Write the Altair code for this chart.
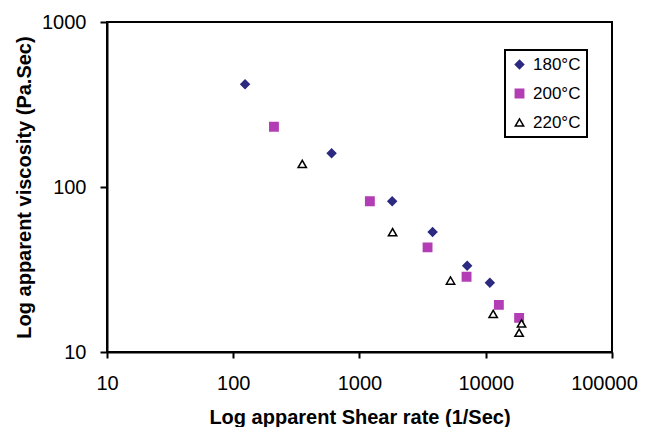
import altair as alt
import pandas as pd

# Data (log-log scatter)
temps = ["180°C", "200°C", "220°C"]
shear_180 = [124, 601, 1815, 3793, 7125, 10777]
visc_180 = [419, 160, 82, 53.4, 33.3, 26.3]
shear_200 = [210, 1208, 3460, 7046, 12700, 18380]
visc_200 = [232, 82, 43.1, 28.6, 19.3, 16.1]
shear_220 = [352, 1828, 5260, 11450, 19200, 18380]
visc_220 = [138, 53.2, 27.1, 17.0, 14.9, 13.1]

x_ticks = [10, 100, 1000, 10000, 100000]
y_ticks = [10, 100, 1000]

rows = []
for t, xs, ys in zip(temps, [shear_180, shear_200, shear_220], [visc_180, visc_200, visc_220]):
    for xv, yv in zip(xs, ys):
        rows.append({"temp": t, "shear": xv, "visc": yv})
df = pd.DataFrame(rows)

FONT = "Liberation Sans"
navy = "#2C2A80"
magenta = "#B23DB4"

leg = alt.Legend(
    title=None, orient="none", legendX=398, legendY=28, padding=6,
    strokeColor="black", labelFont=FONT, labelFontSize=17, labelColor="black",
    symbolSize=70, rowPadding=11, labelOffset=5, symbolStrokeWidth=1.5,
)

chart = alt.Chart(df).mark_point(strokeWidth=1.5, opacity=1, fillOpacity=1).encode(
    x=alt.X("shear:Q",
            scale=alt.Scale(type="log", domain=[10, 100000], nice=False),
            axis=alt.Axis(values=x_ticks, format="d", title="Log apparent Shear rate (1/Sec)",
                          labelFlush=False, labelOverlap=False, labelPadding=15,
                          labelOffset={"condition": {"test": "datum.value >= 100000", "value": -8}, "value": 0},
                          tickSize=6, titleY=71, titleBaseline="alphabetic")),
    y=alt.Y("visc:Q",
            scale=alt.Scale(type="log", domain=[10, 1000], nice=False),
            axis=alt.Axis(values=y_ticks, format="d", title="Log apparent viscosity (Pa.Sec)",
                          labelFlush=False, labelOverlap=False, labelPadding=14,
                          tickSize=7, titleX=-77, titleY=165, titleAngle=270,
                          titleBaseline="alphabetic", titleAlign="center")),
    shape=alt.Shape("temp:N", scale=alt.Scale(domain=temps, range=["diamond", "square", "triangle-up"]), legend=leg),
    fill=alt.Fill("temp:N", scale=alt.Scale(domain=temps, range=[navy, magenta, "white"]), legend=leg),
    stroke=alt.Stroke("temp:N", scale=alt.Scale(domain=temps, range=[navy, magenta, "black"]), legend=leg),
    size=alt.value(70),
).properties(
    width=505, height=330,
    autosize=alt.AutoSizeParams(type="none"),
    padding={"left": 99, "top": 14, "right": 26, "bottom": 75},
).configure_view(
    stroke="black", strokeWidth=2
).configure_axis(
    grid=False, domainColor="black", domainWidth=2, tickColor="black", tickWidth=2,
    labelFont=FONT, labelFontSize=20, labelColor="black",
    titleFont=FONT, titleFontSize=20, titleFontWeight="bold", titleColor="black",
).configure_legend(
    strokeWidth=2
)

chart.save("out.html", embed_options={"renderer": "svg", "actions": False})
